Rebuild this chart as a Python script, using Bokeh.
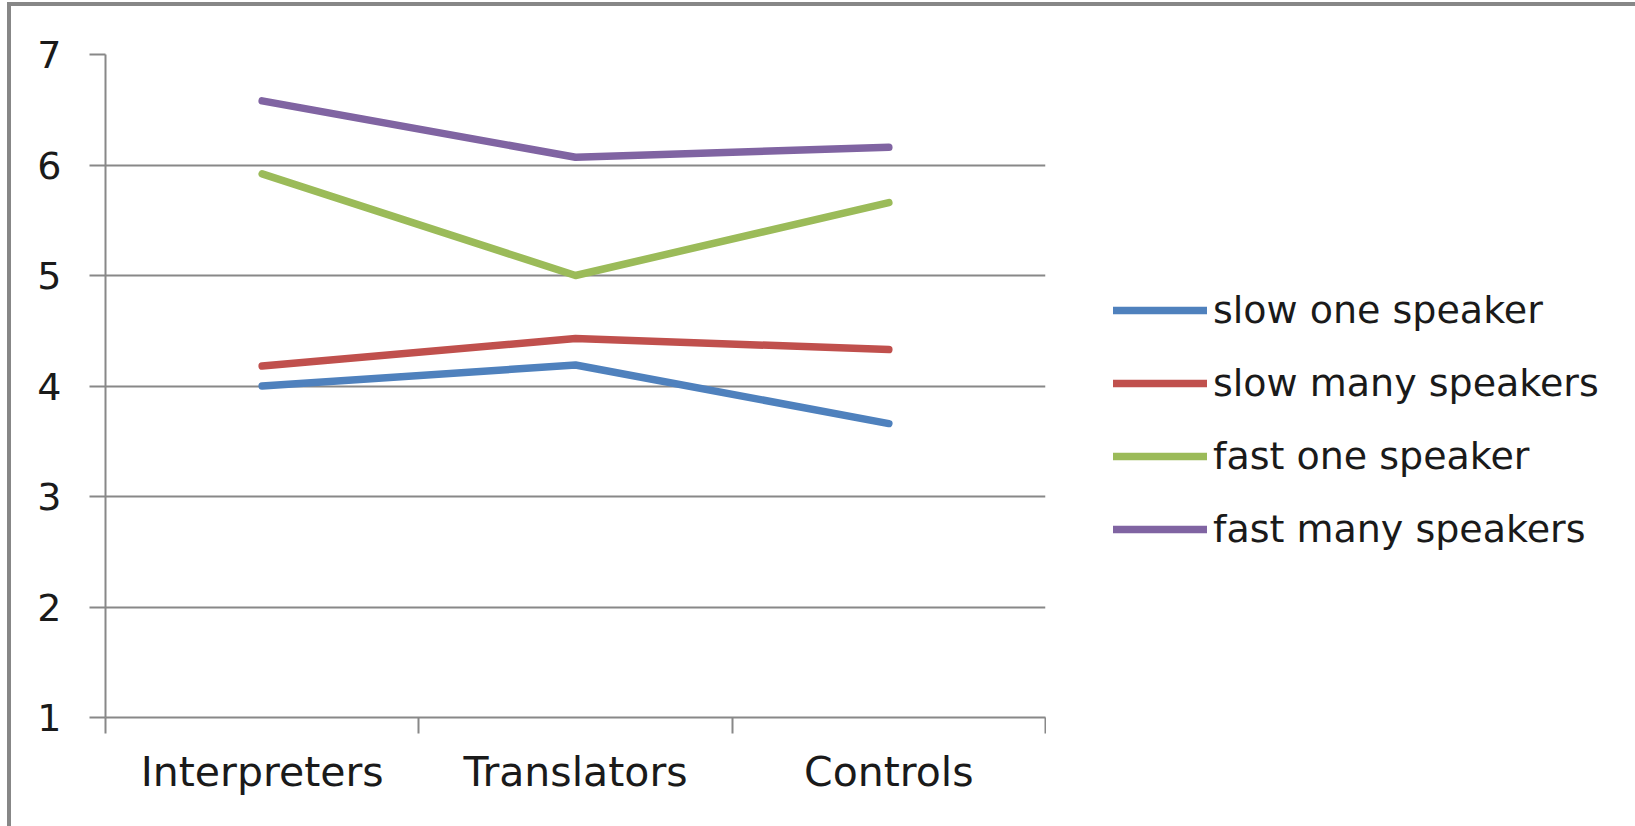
from bokeh.plotting import figure
from bokeh.layouts import row
from bokeh.models import Range1d, FixedTicker, Legend, LegendItem
from bokeh.embed import file_html
from bokeh.resources import INLINE

# Groups along the x axis
groups = ["Interpreters", "Translators", "Controls"]

# Mean scores per condition
slow_one = [4.00, 4.19, 3.66]
slow_many = [4.18, 4.43, 4.33]
fast_one = [5.92, 5.00, 5.66]
fast_many = [6.58, 6.07, 6.16]

series_names = ["slow one speaker", "slow many speakers", "fast one speaker", "fast many speakers"]
series_values = [slow_one, slow_many, fast_one, fast_many]
series_colors = ["#4F81BD", "#C0504D", "#9BBB59", "#8064A2"]

y_ticks = [1, 2, 3, 4, 5, 6, 7]

FONT = "DejaVu Sans"
GRID = "#888888"
TEXT = "#1a1a1a"
LINE_W = 7.5

# each group occupies one unit slot; the line point sits in the middle of its slot
xs = [i + 0.5 for i in range(len(groups))]

p = figure(width=1035, height=820, output_backend="svg", toolbar_location=None,
           x_range=Range1d(0, len(groups)), y_range=Range1d(y_ticks[0], y_ticks[-1]),
           min_border_left=94, min_border_right=1, min_border_top=48, min_border_bottom=109)

p.background_fill_color = "white"
p.border_fill_color = "white"
p.outline_line_color = None

# x axis: labels centred on each group, tick marks on the slot boundaries
p.xaxis.ticker = FixedTicker(ticks=xs, minor_ticks=list(range(len(groups) + 1)))
p.xaxis.major_label_overrides = {x: g for x, g in zip(xs, groups)}
p.xaxis.major_tick_line_color = None
p.xaxis.major_tick_out = 16
p.xaxis.major_tick_in = 0
p.xaxis.minor_tick_out = 16
p.xaxis.minor_tick_in = 0
p.xaxis.minor_tick_line_color = GRID
p.xaxis.minor_tick_line_width = 2
p.xaxis.axis_line_color = GRID
p.xaxis.axis_line_width = 2
p.xaxis.major_label_text_font = FONT
p.xaxis.major_label_text_font_size = "41px"
p.xaxis.major_label_text_color = TEXT
p.xaxis.major_label_standoff = 14

p.yaxis.ticker = FixedTicker(ticks=y_ticks)
p.yaxis.minor_tick_line_color = None
p.yaxis.major_tick_out = 16
p.yaxis.major_tick_in = 0
p.yaxis.major_tick_line_color = GRID
p.yaxis.major_tick_line_width = 2
p.yaxis.axis_line_color = GRID
p.yaxis.axis_line_width = 2
p.yaxis.major_label_text_font = FONT
p.yaxis.major_label_text_font_size = "38px"
p.yaxis.major_label_text_color = TEXT
p.yaxis.major_label_standoff = 28

p.xgrid.grid_line_color = None
p.ygrid.grid_line_color = GRID
p.ygrid.grid_line_width = 2

for vals, col in zip(series_values, series_colors):
    p.line(xs, vals, line_color=col, line_width=LINE_W, line_cap="round", line_join="round")

# legend panel to the right of the chart
lg = figure(width=589, height=820, output_backend="svg", toolbar_location=None,
            x_axis_type=None, y_axis_type=None, x_range=Range1d(0, 1), y_range=Range1d(0, 1),
            min_border=0)
lg.background_fill_color = "white"
lg.border_fill_color = "white"
lg.outline_line_color = None
lg.xgrid.grid_line_color = None
lg.ygrid.grid_line_color = None

# legend keys: line renderers styled like the series, kept outside the visible range
items = []
for name, vals, col in zip(series_names, series_values, series_colors):
    key = lg.line([-2.0, -1.0], [-2.0, -1.0], line_color=col, line_width=LINE_W, line_cap="round")
    items.append(LegendItem(label=name, renderers=[key]))

legend = Legend(items=items, location=(67, 166), orientation="vertical",
                glyph_width=94, glyph_height=40, label_height=40, label_standoff=6,
                spacing=29, padding=0, margin=0,
                label_text_font=FONT, label_text_font_size="38px", label_text_color=TEXT,
                border_line_color=None, background_fill_alpha=0)
lg.add_layout(legend, "center")

# chart-area frame: only its top and left edges fall inside the page
layout = row(p, lg, spacing=0,
             styles={"margin-left": "7px", "margin-top": "2px",
                     "border-left": "4px solid #878787", "border-top": "4px solid #878787"})

open("out.html", "w").write(file_html(layout, INLINE))
